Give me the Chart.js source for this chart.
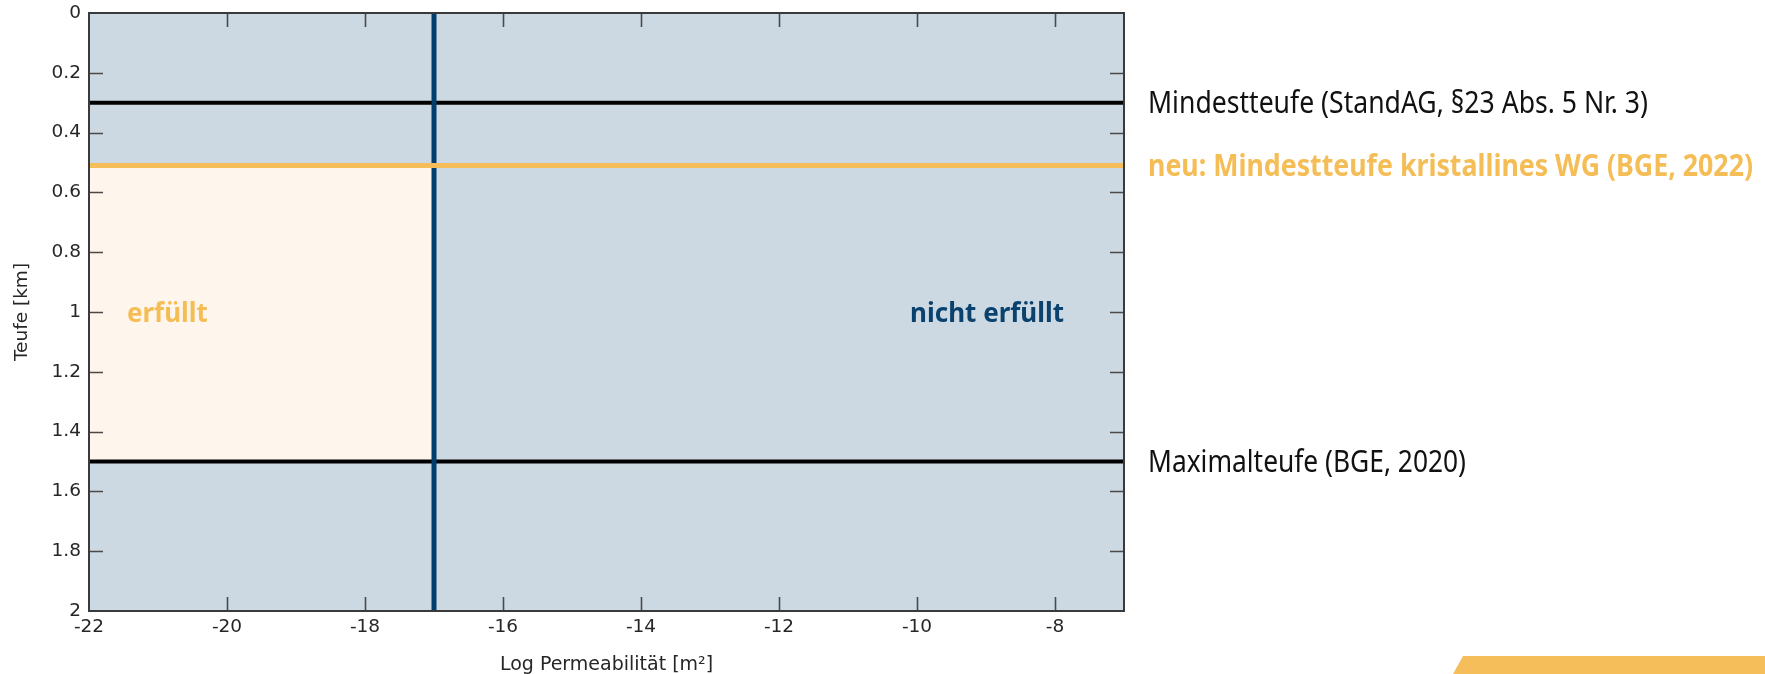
<!DOCTYPE html>
<html>
<head>
<meta charset="utf-8">
<script src="https://cdn.jsdelivr.net/npm/chart.js@4/dist/chart.umd.min.js"></script>
<style>
  html, body { margin: 0; padding: 0; background: #ffffff; overflow: hidden; }
  canvas { display: block; }
</style>
</head>
<body>
<canvas id="chart" width="1765" height="674"></canvas>
<script>
// Axis ranges and ticks
const permRange = [-22, -7];
const depthRange = [0, 2];
const permTicks = [-22, -20, -18, -16, -14, -12, -10, -8];
const depthTicks = [0, 0.2, 0.4, 0.6, 0.8, 1, 1.2, 1.4, 1.6, 1.8, 2];

// Depth criteria (km) and their names
const depthLimits = [0.3, 0.51, 1.5];
const depthLimitNames = [
  'Mindestteufe (StandAG, §23 Abs. 5 Nr. 3)',
  'neu: Mindestteufe kristallines WG (BGE, 2022)',
  'Maximalteufe (BGE, 2020)'
];

// Permeability criterion (log m²)
const permLimit = [-17];

// Zone annotations
const zoneNames = ['erfüllt', 'nicht erfüllt'];
const zonePerm = [-21.45, -10.1];
const zoneDepth = [1.0, 1.0];

const COLORS = {
  area: '#ccd9e2',
  fulfilled: '#fef6ec',
  orange: '#f6bd5b',
  orangeText: '#f5bd55',
  blue: '#003f6d',
  blueText: '#0b426d',
  black: '#000000',
  axis: '#3a3a3a',
  tick: '#4a4a4a',
  text: '#262626'
};

const pt = (x, y) => ({ x, y });

const datasets = [
  // lower edge of the fulfilled zone (fill anchor)
  {
    data: [pt(permRange[0], depthLimits[2]), pt(permLimit[0], depthLimits[2])],
    borderWidth: 0, borderColor: 'rgba(0,0,0,0)', fill: false, order: 6
  },
  // fulfilled zone: permeability below limit, between new minimum depth and maximum depth
  {
    data: [pt(permRange[0], depthLimits[1]), pt(permLimit[0], depthLimits[1])],
    borderWidth: 0, borderColor: 'rgba(0,0,0,0)', backgroundColor: COLORS.fulfilled, fill: '-1', order: 5
  },
  // Mindestteufe StandAG
  {
    data: [pt(permRange[0], depthLimits[0]), pt(permRange[1], depthLimits[0])],
    borderWidth: 4, borderColor: COLORS.black, order: 3
  },
  // Maximalteufe
  {
    data: [pt(permRange[0], depthLimits[2]), pt(permRange[1], depthLimits[2])],
    borderWidth: 4, borderColor: COLORS.black, order: 3
  },
  // permeability limit
  {
    data: [pt(permLimit[0], depthRange[0]), pt(permLimit[0], depthRange[1])],
    borderWidth: 5, borderColor: COLORS.blue, order: 2
  },
  // new minimum depth for crystalline host rock
  {
    data: [pt(permRange[0], depthLimits[1]), pt(permRange[1], depthLimits[1])],
    borderWidth: 5, borderColor: COLORS.orange, order: 1
  }
].map(d => Object.assign({ showLine: true, pointRadius: 0, pointHoverRadius: 0, tension: 0 }, d));

// Plot background, frame with inward ticks, and text annotations
const decorations = {
  id: 'decorations',
  beforeDatasetsDraw(chart) {
    const { ctx, chartArea: a } = chart;
    ctx.save();
    ctx.fillStyle = COLORS.area;
    ctx.fillRect(a.left, a.top, a.right - a.left, a.bottom - a.top);
    ctx.restore();
  },
  afterDatasetsDraw(chart) {
    const { ctx, chartArea: a, scales } = chart;
    const len = 14;
    ctx.save();
    ctx.strokeStyle = COLORS.tick;
    ctx.lineWidth = 1.6;
    ctx.beginPath();
    permTicks.forEach(v => {
      if (v <= permRange[0] || v >= permRange[1]) return;
      const x = Math.round(scales.x.getPixelForValue(v)) + 0.5;
      ctx.moveTo(x, a.bottom); ctx.lineTo(x, a.bottom - len);
      ctx.moveTo(x, a.top); ctx.lineTo(x, a.top + len);
    });
    depthTicks.forEach(v => {
      if (v <= depthRange[0] || v >= depthRange[1]) return;
      const y = Math.round(scales.y.getPixelForValue(v)) + 0.5;
      ctx.moveTo(a.left, y); ctx.lineTo(a.left + len, y);
      ctx.moveTo(a.right, y); ctx.lineTo(a.right - len, y);
    });
    ctx.stroke();

    ctx.strokeStyle = COLORS.axis;
    ctx.lineWidth = 2;
    ctx.strokeRect(a.left, a.top, a.right - a.left, a.bottom - a.top);

    // zone labels
    ctx.textAlign = 'left';
    ctx.textBaseline = 'alphabetic';
    ctx.font = 'bold 26px "Noto Sans"';
    const zoneColors = [COLORS.orangeText, COLORS.blueText];
    zoneNames.forEach((name, i) => {
      ctx.fillStyle = zoneColors[i];
      const x = scales.x.getPixelForValue(zonePerm[i]);
      const y = scales.y.getPixelForValue(zoneDepth[i]);
      ctx.fillText(name, x, y + 10);
    });
    ctx.restore();
  },
  afterDraw(chart) {
    const { ctx, chartArea: a, scales, width, height } = chart;
    ctx.save();
    // criteria names beside their lines (condensed lettering)
    const boxWidths = [500, 605, 318];
    const weights = ['normal', 'bold', 'normal'];
    const colors = ['#111111', COLORS.orangeText, '#111111'];
    const size = 30;
    depthLimitNames.forEach((name, i) => {
      ctx.font = weights[i] + ' ' + size + 'px "Noto Sans"';
      const w = ctx.measureText(name).width;
      const sx = boxWidths[i] / w;
      const y = scales.y.getPixelForValue(depthLimits[i]) + size * 0.357;
      ctx.save();
      ctx.translate(a.right + 24, y);
      ctx.scale(sx, 1);
      ctx.fillStyle = colors[i];
      ctx.textAlign = 'left';
      ctx.textBaseline = 'alphabetic';
      ctx.fillText(name, 0, 0);
      ctx.restore();
    });

    // corner accent band
    ctx.fillStyle = COLORS.orange;
    ctx.beginPath();
    ctx.moveTo(1463, 656);
    ctx.lineTo(width, 656);
    ctx.lineTo(width, height);
    ctx.lineTo(1453, height);
    ctx.closePath();
    ctx.fill();
    ctx.restore();
  }
};

const tickFont = { family: '"DejaVu Sans", Verdana, sans-serif', size: 18.5 };
const titleFont = { family: '"DejaVu Sans", Verdana, sans-serif', size: 19 };

new Chart(document.getElementById('chart'), {
  type: 'scatter',
  data: { datasets },
  plugins: [decorations],
  options: {
    responsive: false,
    animation: false,
    devicePixelRatio: 1,
    layout: { padding: { top: 13, right: 641, bottom: 0, left: 0 } },
    plugins: { legend: { display: false }, tooltip: { enabled: false } },
    events: [],
    scales: {
      x: {
        type: 'linear',
        position: 'bottom',
        min: permRange[0],
        max: permRange[1],
        afterBuildTicks: s => { s.ticks = permTicks.map(v => ({ value: v })); },
        afterFit: s => { s.height = 63; s.paddingLeft = 0; s.paddingRight = 0; },
        grid: { display: false, drawTicks: false },
        border: { display: false },
        ticks: { color: COLORS.text, font: tickFont, padding: 5, maxRotation: 0, autoSkip: false, callback: v => String(v) },
        title: {
          display: true,
          text: 'Log Permeabilität [m²]',
          color: COLORS.text,
          font: titleFont,
          padding: { top: 0, bottom: -2 }
        }
      },
      y: {
        type: 'linear',
        position: 'left',
        reverse: true,
        min: depthRange[0],
        max: depthRange[1],
        afterBuildTicks: s => { s.ticks = depthTicks.map(v => ({ value: v })); },
        afterFit: s => { s.width = 89; s.paddingTop = 0; s.paddingBottom = 0; },
        grid: { display: false, drawTicks: false },
        border: { display: false },
        ticks: { color: COLORS.text, font: tickFont, padding: 8, autoSkip: false, callback: v => String(v) },
        title: {
          display: true,
          text: 'Teufe [km]',
          color: COLORS.text,
          font: tickFont,
          padding: { top: 11, bottom: 0 }
        }
      }
    }
  }
});
</script>
</body>
</html>
